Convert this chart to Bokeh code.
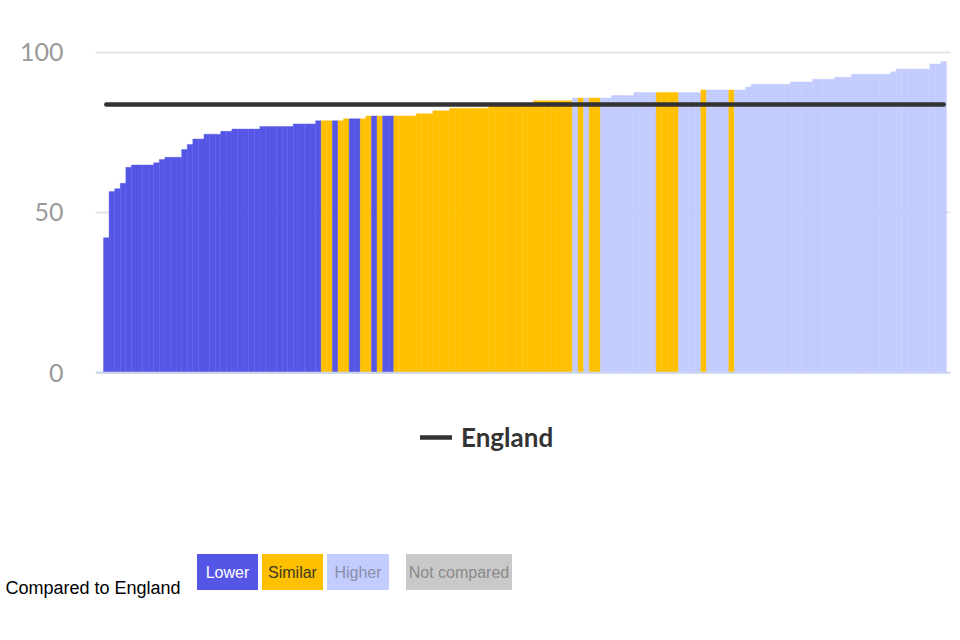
from bokeh.plotting import figure
from bokeh.models import Range1d, FixedTicker, Span, ColumnDataSource
from bokeh.core.properties import value
from bokeh.embed import file_html
from bokeh.resources import INLINE

# ---------------- data ----------------
values = [
    42.1, 56.5, 57.4, 59.1, 64.1, 64.8, 64.8, 64.8, 64.8, 65.5,
    66.5, 67.2, 67.2, 67.2, 69.6, 71.2, 72.9, 72.9, 74.4, 74.4,
    74.4, 75.3, 75.3, 76.0, 76.0, 76.0, 76.0, 76.0, 76.8, 76.8,
    76.8, 76.8, 76.8, 76.8, 77.6, 77.6, 77.6, 77.6, 78.6, 78.6,
    78.6, 78.6, 78.6, 79.2, 79.2, 79.2, 79.2, 80.1, 80.1, 80.1,
    80.1, 80.1, 80.1, 80.1, 80.1, 80.1, 80.8, 80.8, 80.8, 81.7,
    81.7, 81.7, 82.5, 82.5, 82.5, 82.5, 82.5, 82.5, 82.5, 83.3,
    83.3, 83.3, 83.3, 83.3, 83.3, 83.3, 83.3, 84.8, 84.8, 84.8,
    84.8, 84.8, 84.8, 84.8, 85.7, 85.7, 85.7, 85.7, 85.7, 85.7,
    85.7, 86.5, 86.5, 86.5, 86.5, 87.4, 87.4, 87.4, 87.4, 87.4,
    87.4, 87.4, 87.4, 87.4, 87.4, 87.4, 87.4, 88.2, 88.2, 88.2,
    88.2, 88.2, 88.2, 88.2, 88.2, 89.1, 90.0, 90.0, 90.0, 90.0,
    90.0, 90.0, 90.0, 90.7, 90.7, 90.7, 90.7, 91.5, 91.5, 91.5,
    91.5, 92.2, 92.2, 92.2, 93.1, 93.1, 93.1, 93.1, 93.1, 93.1,
    93.1, 93.9, 94.7, 94.7, 94.7, 94.7, 94.7, 94.7, 96.3, 96.3,
    97.1,
]

# L = Lower, S = Similar, H = Higher (compared to England)
comparison = [
    "L", "L", "L", "L", "L", "L", "L", "L", "L", "L",
    "L", "L", "L", "L", "L", "L", "L", "L", "L", "L",
    "L", "L", "L", "L", "L", "L", "L", "L", "L", "L",
    "L", "L", "L", "L", "L", "L", "L", "L", "L", "S",
    "S", "L", "S", "S", "L", "L", "S", "S", "L", "S",
    "L", "L", "S", "S", "S", "S", "S", "S", "S", "S",
    "S", "S", "S", "S", "S", "S", "S", "S", "S", "S",
    "S", "S", "S", "S", "S", "S", "S", "S", "S", "S",
    "S", "S", "S", "S", "H", "S", "H", "S", "S", "H",
    "H", "H", "H", "H", "H", "H", "H", "H", "H", "S",
    "S", "S", "S", "H", "H", "H", "H", "S", "H", "H",
    "H", "H", "S", "H", "H", "H", "H", "H", "H", "H",
    "H", "H", "H", "H", "H", "H", "H", "H", "H", "H",
    "H", "H", "H", "H", "H", "H", "H", "H", "H", "H",
    "H", "H", "H", "H", "H", "H", "H", "H", "H", "H",
    "H",
]

england = 83.7

y_ticks = [0, 50, 100]

key_labels = ["Lower", "Similar", "Higher", "Not compared"]
key_codes = ["L", "S", "H", "N"]
key_title = "Compared to England"

# ---------------- styles ----------------
palette = {"L": "#5555E6", "S": "#FFC000", "H": "#C2CCFF", "N": "#C9C9C9"}
key_text_colors = {"L": "#FFFFFF", "S": "#3d3820", "H": "#8a8fa6", "N": "#8a8a8a"}

n = len(values)
idx = list(range(n))
src = ColumnDataSource(dict(
    x=idx,
    v=values,
    color=[palette[c] for c in comparison],
))

px_per_bar = 5.583
left_pad = 8 / px_per_bar
right_pad = 4 / px_per_bar

p = figure(
    width=958, height=510,
    x_range=Range1d(-0.5 - left_pad, n - 0.5 + right_pad),
    y_range=Range1d(-42.94, 106.74),
    output_backend="svg", toolbar_location=None,
    x_axis_location=None,
    min_border_left=95, min_border_right=8, min_border_top=30, min_border_bottom=0,
    outline_line_color=None,
)

p.vbar(x="x", top="v", bottom=0, width=1, source=src,
       fill_color="color", line_color="color", line_width=0.4)

p.line(x=idx, y=[england] * n, line_color="#333333", line_width=4.5,
       line_cap="round", legend_label="England")

p.add_layout(Span(location=0, dimension="width", line_color="#CCD6EB", line_width=2))

ax = p.yaxis[0]
ax.ticker = FixedTicker(ticks=y_ticks)
ax.axis_line_color = None
ax.major_tick_line_color = None
ax.minor_tick_line_color = None
ax.major_tick_out = 0
ax.major_tick_in = 0
ax.major_label_standoff = 32
ax.major_label_text_font = "Lato"
ax.major_label_text_font_size = "25px"
ax.major_label_text_color = "#999999"

p.xgrid.visible = False
p.ygrid.ticker = FixedTicker(ticks=y_ticks)
p.ygrid.grid_line_color = "#E6E6E6"
p.ygrid.grid_line_width = 2

lg = p.legend[0]
lg.location = (325, 57)
lg.orientation = "horizontal"
lg.border_line_color = None
lg.background_fill_alpha = 0
lg.padding = 0
lg.margin = 0
lg.glyph_width = 32
lg.glyph_height = 24
lg.label_height = 24
lg.label_standoff = 9
lg.label_text_font = "Lato"
lg.label_text_font_style = "bold"
lg.label_text_font_size = "26px"
lg.label_text_color = "#333333"

# ---------------- key row ----------------
pk = figure(
    width=958, height=128,
    x_range=Range1d(0, 958), y_range=Range1d(128, 0),
    output_backend="svg", toolbar_location=None,
    x_axis_location=None, y_axis_location=None,
    min_border=0, min_border_left=0, min_border_right=0,
    min_border_top=0, min_border_bottom=0,
    outline_line_color=None,
)
pk.xgrid.visible = False
pk.ygrid.visible = False

box_left = [196, 261, 326, 405]
box_width = [62, 62, 63, 107]
box_cy = 61.5
box_h = 37

pk.rect(x=[l + w / 2 for l, w in zip(box_left, box_width)], y=[box_cy] * 4,
        width=box_width, height=box_h,
        fill_color=[palette[c] for c in key_codes], line_color="#FFFFFF", line_width=1)

pk.text(x=[l + w / 2 for l, w in zip(box_left, box_width)], y=[box_cy] * 4,
        text=key_labels, text_align="center", text_baseline="middle",
        text_font=value("Liberation Sans"), text_font_size="16px",
        text_color=[key_text_colors[c] for c in key_codes])

pk.text(x=[5], y=[77], text=[key_title], text_align="left", text_baseline="middle",
        text_font=value("Liberation Sans"), text_font_size="18px",
        text_color="#000000")

open("out.html", "w").write(file_html([p, pk], INLINE))
